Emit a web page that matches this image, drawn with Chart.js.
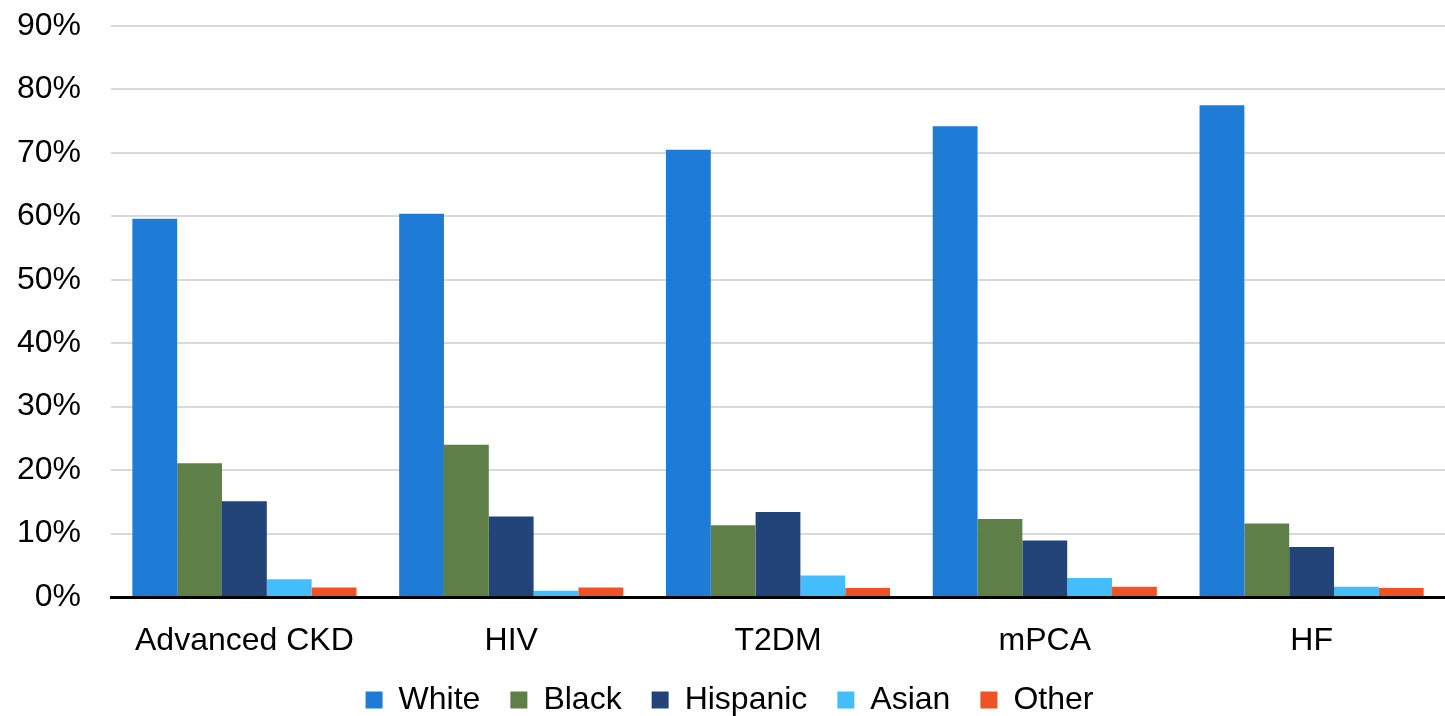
<!DOCTYPE html>
<html>
<head>
<meta charset="utf-8">
<script src="https://cdn.jsdelivr.net/npm/chart.js@4/dist/chart.umd.min.js"></script>
<style>
html,body{margin:0;padding:0;background:#fff;overflow:hidden;}
#wrap{width:1445px;height:716px;position:relative;overflow:hidden;}
</style>
</head>
<body>
<div id="wrap"><canvas id="c" width="1445" height="726"></canvas></div>
<script>
const categories = ["Advanced CKD", "HIV", "T2DM", "mPCA", "HF"];
const white    = [59.6, 60.4, 70.5, 74.2, 77.5];
const black    = [21.1, 24.0, 11.3, 12.3, 11.6];
const hispanic = [15.1, 12.7, 13.4, 8.9, 7.9];
const asian    = [2.8, 1.0, 3.4, 3.0, 1.6];
const other    = [1.5, 1.5, 1.4, 1.6, 1.4];
const yTicks = [0, 10, 20, 30, 40, 50, 60, 70, 80, 90];

const font = "'Liberation Sans', Arial, sans-serif";
const mk = (label, data, color) => ({label, data, backgroundColor: color, borderWidth: 0, barPercentage: 1.0, categoryPercentage: 0.84});

new Chart(document.getElementById('c'), {
  type: 'bar',
  data: {
    labels: categories,
    datasets: [
      mk('White', white, '#1E7CD6'),
      mk('Black', black, '#5E7F48'),
      mk('Hispanic', hispanic, '#234478'),
      mk('Asian', asian, '#44BDFC'),
      mk('Other', other, '#F05223')
    ]
  },
  options: {
    responsive: false,
    animation: false,
    layout: {padding: {left: 14, right: 0, top: 26, bottom: 0}},
    plugins: {
      legend: {
        position: 'bottom',
        labels: {
          font: {family: font, size: 32},
          color: '#000',
          boxWidth: 17,
          boxHeight: 17,
          padding: 30
        }
      },
      tooltip: {enabled: false}
    },
    scales: {
      x: {
        grid: {display: false, drawTicks: false},
        border: {display: true, color: '#000', width: 3},
        ticks: {font: {family: font, size: 32}, color: '#000', padding: 25},
        afterFit: s => { s.height = 57; s.paddingLeft = 0; s.paddingRight = 0; }
      },
      y: {
        min: 0, max: 90,
        afterBuildTicks: (axis) => { axis.ticks = yTicks.map(v => ({value: v})); },
        grid: {color: '#D9D9D9', lineWidth: 2, drawTicks: false},
        border: {display: false},
        ticks: {font: {family: font, size: 32}, color: '#000', padding: 30, callback: v => v + '%'},
        afterFit: s => { s.width = 97; s.paddingTop = 0; s.paddingBottom = 0; }
      }
    }
  }
});
</script>
</body>
</html>
